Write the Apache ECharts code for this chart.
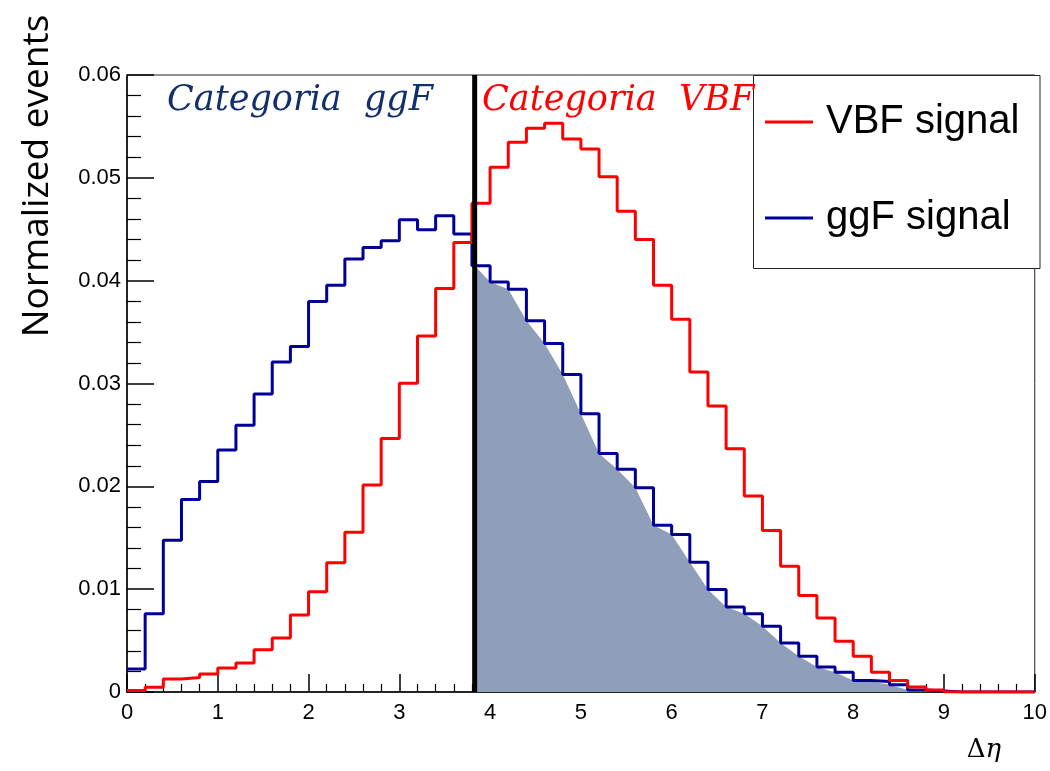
<!DOCTYPE html>
<html>
<head>
<meta charset="utf-8">
<script src="https://cdn.jsdelivr.net/npm/echarts@6/dist/echarts.min.js"></script>
<style>
  html, body { margin: 0; padding: 0; background: #ffffff; }
  #chart { width: 1050px; height: 771px; }
</style>
</head>
<body>
<div id="chart"></div>
<script>
// Δη histograms: 50 bins of width 0.2 from 0 to 10
const binLow = 0;
const binWidth = 0.2;

// VBF signal, normalized bin contents
const vbfSignal = [
  0.00015, 0.00045, 0.00127, 0.00142, 0.00175, 0.00234, 0.00282, 0.00412, 0.00526, 0.00750,
  0.00974, 0.01256, 0.01554, 0.02012, 0.02464, 0.03002, 0.03463, 0.03924, 0.04372, 0.04752,
  0.05102, 0.05346, 0.05482, 0.05530, 0.05378, 0.05280, 0.05011, 0.04674, 0.04401, 0.03956,
  0.03625, 0.03112, 0.02781, 0.02366, 0.01905, 0.01571, 0.01223, 0.00938, 0.00720, 0.00493,
  0.00347, 0.00191, 0.00113, 0.00049, 0.00020, 0, 0, 0, 0, 0
];

// ggF signal, normalized bin contents
const ggfSignal = [
  0.00224, 0.00762, 0.01476, 0.01872, 0.02048, 0.02353, 0.02593, 0.02898, 0.03210, 0.03359,
  0.03797, 0.03956, 0.04210, 0.04323, 0.04388, 0.04592, 0.04495, 0.04631, 0.04453, 0.04144,
  0.03988, 0.03917, 0.03609, 0.03388, 0.03088, 0.02707, 0.02320, 0.02165, 0.01986, 0.01622,
  0.01532, 0.01262, 0.00996, 0.00826, 0.00762, 0.00639, 0.00477, 0.00347, 0.00243, 0.00191,
  0.00113, 0.00103, 0.00071, 0.00020, 0.00010, 0, 0, 0, 0, 0
];

// Category boundary in Δη
const cutValue = 3.83;

const xTicks = { min: 0, max: 10, step: 1 };
const yTicks = { min: 0, max: 0.06, step: 0.01 };

const seriesNames = ['VBF signal', 'ggF signal'];
const categoryLabels = ['Categoria  ggF', 'Categoria  VBF'];

// Outline of a histogram: horizontal top of every bin joined by vertical edges
function stepOutline(values) {
  const pts = [];
  values.forEach((v, k) => {
    pts.push([binLow + k * binWidth, v]);
    pts.push([binLow + (k + 1) * binWidth, v]);
  });
  return pts;
}

// Shaded ggF region above the cut, through the lower corners of the bins
function shadedRegion(values, cut) {
  const first = Math.floor((cut - binLow) / binWidth);
  const pts = [[cut, values[first]]];
  for (let k = first + 1; k < values.length; k++) {
    pts.push([binLow + k * binWidth, values[k]]);
  }
  return pts;
}

const chart = echarts.init(document.getElementById('chart'), null, { renderer: 'canvas' });

const axisFont = 'Liberation Sans, Arial, Helvetica, sans-serif';
const RED = '#ff0000';
const BLUE = '#000099';

chart.setOption({
  animation: false,
  backgroundColor: '#ffffff',
  grid: {
    left: 127, right: 10, top: 75, bottom: 79,
    show: true, borderColor: '#222222', borderWidth: 1, backgroundColor: 'transparent'
  },
  legend: {
    data: seriesNames,
    orient: 'vertical',
    left: 765,
    top: 99,
    padding: 0,
    itemGap: 50,
    itemWidth: 48,
    itemHeight: 3,
    icon: 'rect',
    selectedMode: false,
    z: 30,
    textStyle: {
      fontFamily: axisFont, fontSize: 40, color: '#000000',
      lineHeight: 46, padding: [0, 0, 0, 8]
    }
  },
  xAxis: {
    type: 'value',
    min: xTicks.min, max: xTicks.max, interval: xTicks.step,
    axisLine: { show: true, onZero: false, lineStyle: { color: '#000000', width: 1.5 } },
    axisTick: { show: true, inside: true, length: 18, lineStyle: { color: '#000000', width: 1.5 } },
    minorTick: { show: true, splitNumber: 5, length: 8, lineStyle: { color: '#000000', width: 1.2 } },
    splitLine: { show: false },
    axisLabel: { fontFamily: axisFont, fontSize: 22, color: '#000000', margin: 10 }
  },
  yAxis: {
    type: 'value',
    min: yTicks.min, max: yTicks.max, interval: yTicks.step,
    axisLine: { show: true, onZero: false, lineStyle: { color: '#000000', width: 1.5 } },
    axisTick: { show: true, inside: true, length: 27, lineStyle: { color: '#000000', width: 1.5 } },
    minorTick: { show: true, splitNumber: 5, length: 14, lineStyle: { color: '#000000', width: 1.2 } },
    splitLine: { show: false },
    axisLabel: {
      fontFamily: axisFont, fontSize: 22, color: '#000000', margin: 6,
      formatter: v => (v === 0 ? '0' : v.toFixed(2))
    }
  },
  series: [
    {
      name: 'ggF above cut',
      type: 'line',
      data: shadedRegion(ggfSignal, cutValue),
      symbol: 'none',
      lineStyle: { width: 0, opacity: 0 },
      areaStyle: { color: '#8f9eb9', opacity: 1 },
      silent: true,
      z: 1
    },
    {
      name: seriesNames[1],
      type: 'line',
      color: BLUE,
      data: stepOutline(ggfSignal),
      symbol: 'none',
      lineStyle: { color: BLUE, width: 3 },
      z: 3
    },
    {
      name: seriesNames[0],
      type: 'line',
      color: RED,
      data: stepOutline(vbfSignal),
      symbol: 'none',
      lineStyle: { color: RED, width: 3 },
      z: 4
    },
    {
      name: 'cut',
      type: 'line',
      data: [[cutValue, yTicks.min], [cutValue, yTicks.max]],
      symbol: 'none',
      lineStyle: { color: '#000000', width: 5 },
      z: 5
    }
  ],
  graphic: [
    {
      type: 'rect',
      shape: { x: 753.5, y: 75.5, width: 286.5, height: 193 },
      style: { fill: '#ffffff', stroke: '#222222', lineWidth: 1 },
      z: 10
    },
    {
      type: 'text',
      x: 167, y: 101,
      style: {
        text: categoryLabels[0],
        fontFamily: 'DejaVu Serif', fontStyle: 'italic', fontSize: 35,
        fill: '#12306b', textAlign: 'left', textVerticalAlign: 'middle'
      },
      z: 12
    },
    {
      type: 'text',
      x: 482, y: 101,
      style: {
        text: categoryLabels[1],
        fontFamily: 'DejaVu Serif', fontStyle: 'italic', fontSize: 35,
        fill: RED, textAlign: 'left', textVerticalAlign: 'middle'
      },
      z: 12
    },
    {
      type: 'text',
      x: 37, y: 176,
      rotation: Math.PI / 2,
      style: {
        text: 'Normalized events',
        fontFamily: 'Open Sans', fontSize: 37,
        fill: '#000000', textAlign: 'center', textVerticalAlign: 'middle'
      },
      z: 12
    },
    {
      type: 'text',
      x: 984, y: 750,
      style: {
        text: '{a|Δ}{b|η}',
        textAlign: 'center', textVerticalAlign: 'middle',
        rich: {
          a: { fontFamily: 'DejaVu Serif', fontSize: 26, fill: '#000000', color: '#000000' },
          b: { fontFamily: 'DejaVu Serif', fontStyle: 'italic', fontSize: 26, fill: '#000000', color: '#000000' }
        }
      },
      z: 12
    }
  ]
});
</script>
</body>
</html>
